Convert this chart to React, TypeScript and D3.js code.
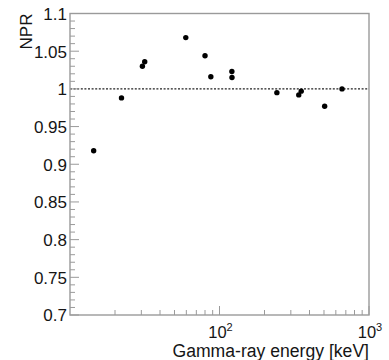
import React from "react";
import * as d3 from "d3";

// Measured gamma-ray lines and their NPR values
const energies = [14.4, 22.1, 30.5, 31.6, 59.5, 80.0, 87.5, 121.0, 121.2, 242, 339, 352, 505, 660];
const npr = [0.918, 0.988, 1.030, 1.036, 1.068, 1.044, 1.016, 1.023, 1.015, 0.995, 0.992, 0.997, 0.977, 1.000];

const yTickLabels = ["0.7", "0.75", "0.8", "0.85", "0.9", "0.95", "1", "1.05", "1.1"];
const xDecades = [100, 1000];
const xDecadeExp = ["2", "3"];

const W = 389;
const H = 360;
const margin = { left: 70, right: 20, top: 13.5, bottom: 45 };

export default function App() {
  const x = d3.scaleLog().domain([10, 1000]).range([margin.left, W - margin.right]);
  const y = d3.scaleLinear().domain([0.7, 1.1]).range([H - margin.bottom, margin.top]);
  const [x0, x1] = x.range();
  const [y0, y1] = y.range();

  const yMinor = d3.range(70, 111).map((v) => v / 100);
  const xMinor: number[] = [];
  [10, 100].forEach((d) => {
    for (let k = 2; k <= 9; k++) xMinor.push(d * k);
  });

  const axisColor = "#9a9a9a";
  const textColor = "#151515";
  const font = "Liberation Sans, Arial, sans-serif";

  return (
    <svg
      width={W}
      height={H}
      style={{ position: "absolute", left: 0, top: 0, background: "#fff" }}
      fontFamily={font}
    >
      <rect x={0} y={0} width={W} height={H} fill="#fff" />
      {/* reference line at NPR = 1 */}
      <line x1={x0} x2={x1} y1={y(1)} y2={y(1)} stroke="#222" strokeWidth={1.1} strokeDasharray="2,1.6" />

      {/* y ticks */}
      {yMinor.map((v, i) => {
        const major = Math.round(v * 100) % 5 === 0;
        return (
          <line
            key={"ym" + i}
            x1={x0}
            x2={x0 + (major ? 9 : 5)}
            y1={y(v)}
            y2={y(v)}
            stroke={axisColor}
            strokeWidth={1}
          />
        );
      })}
      {yTickLabels.map((t) => (
        <text
          key={"yl" + t}
          x={x0 - 3}
          y={y(+t)}
          dy="0.38em"
          textAnchor="end"
          fontSize={17}
          fill={textColor}
        >
          {t}
        </text>
      ))}

      {/* x ticks */}
      {xMinor.map((v) => (
        <line key={"xm" + v} x1={x(v)} x2={x(v)} y1={y0} y2={y0 - 5} stroke={axisColor} strokeWidth={1} />
      ))}
      {xDecades.map((v, i) => (
        <g key={"xd" + v}>
          <line x1={x(v)} x2={x(v)} y1={y0} y2={y0 - 9} stroke={axisColor} strokeWidth={1} />
          <text x={x(v) + 1} y={y0 + 23} textAnchor="middle" fontSize={16.5} fill={textColor}>
            10
            <tspan dy={-7} fontSize={11}>
              {xDecadeExp[i]}
            </tspan>
          </text>
        </g>
      ))}

      {/* frame */}
      <rect
        x={x0}
        y={y1}
        width={x1 - x0}
        height={y0 - y1}
        fill="none"
        stroke={axisColor}
        strokeWidth={1.4}
      />

      {/* data points */}
      {energies.map((e, i) => (
        <circle key={"p" + i} cx={x(e)} cy={y(npr[i])} r={2.7} fill="#000" />
      ))}

      {/* axis titles */}
      <text x={x1} y={357} textAnchor="end" fontSize={17.6} fill={textColor}>
        Gamma-ray energy [keV]
      </text>
      <text
        transform={`translate(32,${y1}) rotate(-90)`}
        textAnchor="end"
        fontSize={17}
        fill={textColor}
      >
        NPR
      </text>
    </svg>
  );
}
